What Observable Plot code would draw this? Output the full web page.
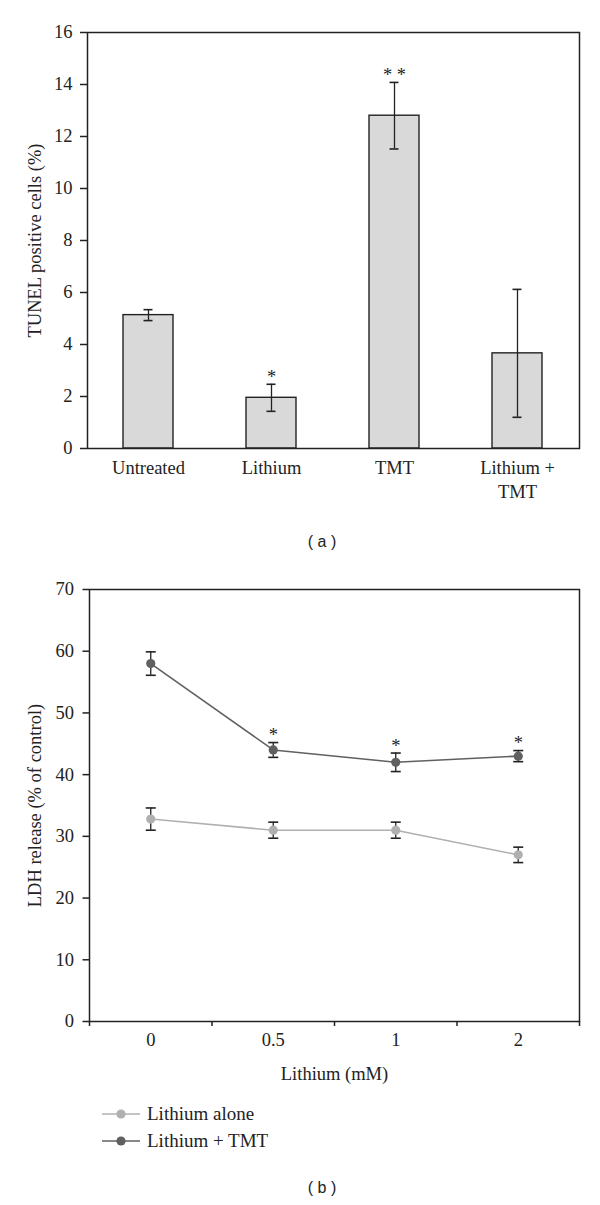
<!DOCTYPE html>
<html><head><meta charset="utf-8">
<script src="https://cdn.jsdelivr.net/npm/d3@7"></script>
<script src="https://cdn.jsdelivr.net/npm/@observablehq/plot@0.6"></script>
<style>
body{margin:0;background:#fff;width:600px;height:1205px;position:relative;overflow:hidden;font-family:"Liberation Serif",serif;}
#a{position:absolute;left:0;top:0}
#b{position:absolute;left:0;top:560px}
.cap{position:absolute;font-family:"Liberation Sans",Arial,sans-serif;font-size:16px;color:#222;transform:translate(-50%,-50%);white-space:pre}
.leg{position:absolute;left:101px;height:20px;font-size:19px;color:#222;display:flex;align-items:center;transform:translateY(-50%);white-space:pre}
.leg svg{margin-right:6px}
</style></head><body>
<div id="a"></div><div id="b"></div>
<div class="cap" style="left:322px;top:542px">( a )</div>
<div id="legend"></div>
<div class="cap" style="left:322px;top:1188px">( b )</div>
<script>
// ---- panel (a) data ----
const groups = ["Untreated", "Lithium", "TMT", "Lithium + TMT"];
const groupLabels = ["Untreated", "Lithium", "TMT", "Lithium +\nTMT"];
const tunel = [5.13, 1.95, 12.8, 3.66];
const tunelErr = [0.21, 0.52, 1.28, 2.46];
const tunelSig = ["", "*", "* *", ""];
const yTicksA = [0, 2, 4, 6, 8, 10, 12, 14, 16];

// ---- panel (b) data ----
const doses = ["0", "0.5", "1", "2"];
const seriesNames = ["Lithium alone", "Lithium + TMT"];
const lithiumAlone = [32.8, 31.0, 31.0, 27.0];
const lithiumAloneErr = [1.8, 1.3, 1.3, 1.25];
const lithiumAloneSig = ["", "", "", ""];
const lithiumTmt = [58.0, 44.0, 42.0, 43.0];
const lithiumTmtErr = [1.9, 1.2, 1.5, 0.9];
const lithiumTmtSig = ["", "*", "*", "*"];
const yTicksB = [0, 10, 20, 30, 40, 50, 60, 70];
const seriesColors = ["#b0b0b0", "#606060"];

const ink = "#222";
const font = '"Liberation Serif", "Times New Roman", serif';
const fs = 18.5;

const dataA = groups.map((g, i) => ({
  group: g, value: tunel[i], lo: tunel[i] - tunelErr[i], hi: tunel[i] + tunelErr[i], sig: tunelSig[i]
}));

const chartA = Plot.plot({
  width: 600, height: 510,
  marginTop: 32, marginBottom: 62, marginLeft: 87, marginRight: 21,
  style: {fontFamily: font, fontSize: fs + "px", color: ink, background: "white"},
  x: {domain: groups, type: "band", paddingInner: 0.593, paddingOuter: 0.2965},
  y: {domain: [0, 16]},
  marks: [
    Plot.barY(dataA, {x: "group", y: "value", fill: "#d9d9d9", stroke: ink, strokeWidth: 1.4}),
    Plot.ruleX(dataA, {x: "group", y1: "lo", y2: "hi", stroke: ink, strokeWidth: 1.3}),
    Plot.tickY(dataA, {x: "group", y: "lo", insetLeft: 20.5, insetRight: 20.5, stroke: ink, strokeWidth: 1.6}),
    Plot.tickY(dataA, {x: "group", y: "hi", insetLeft: 20.5, insetRight: 20.5, stroke: ink, strokeWidth: 1.6}),
    Plot.text(dataA, {x: "group", y: "hi", text: "sig", dy: -7, fontSize: fs, fill: ink}),
    Plot.frame({stroke: ink, strokeWidth: 1.5}),
    Plot.axisY({ticks: yTicksA, tickSize: 7, tickPadding: 8, stroke: ink, strokeWidth: 1.5, fontSize: fs,
      label: "TUNEL positive cells (%)", labelAnchor: "center", labelArrow: "none", labelOffset: 60}),
    Plot.axisX({tickSize: 0, tickPadding: 8, lineHeight: 1.3, label: null, fontSize: fs,
      tickFormat: d => groupLabels[groups.indexOf(d)]})
  ]
});
document.getElementById("a").append(chartA);

const seriesDefs = [
  {name: seriesNames[0], values: lithiumAlone, err: lithiumAloneErr, sig: lithiumAloneSig},
  {name: seriesNames[1], values: lithiumTmt, err: lithiumTmtErr, sig: lithiumTmtSig}
];
const dataB = seriesDefs.flatMap(s => doses.map((d, i) => ({
  series: s.name, i, dose: d, value: s.values[i], lo: s.values[i] - s.err[i], hi: s.values[i] + s.err[i], sig: s.sig[i]
})));

const capSymbol = {draw(ctx) { ctx.moveTo(-5, 0); ctx.lineTo(5, 0); }};

const chartB = Plot.plot({
  width: 600, height: 525,
  marginTop: 29, marginBottom: 64, marginLeft: 89, marginRight: 21,
  style: {fontFamily: font, fontSize: fs + "px", color: ink, background: "white"},
  x: {type: "linear", domain: [-0.5, doses.length - 0.5]},
  y: {domain: [0, 70]},
  color: {domain: seriesNames, range: seriesColors},
  marks: [
    Plot.line(dataB, {x: "i", y: "value", z: "series", stroke: "series", strokeWidth: 1.6}),
    Plot.ruleX(dataB, {x: "i", y1: "lo", y2: "hi", stroke: ink, strokeWidth: 1.3}),
    Plot.dot(dataB, {x: "i", y: "lo", symbol: capSymbol, fill: "none", stroke: ink, strokeWidth: 1.6}),
    Plot.dot(dataB, {x: "i", y: "hi", symbol: capSymbol, fill: "none", stroke: ink, strokeWidth: 1.6}),
    Plot.dot(dataB, {x: "i", y: "value", fill: "series", r: 4.6}),
    Plot.text(dataB, {x: "i", y: "hi", text: "sig", dy: -7, fontSize: fs, fill: ink}),
    Plot.frame({stroke: ink, strokeWidth: 1.5}),
    Plot.axisY({ticks: yTicksB, tickSize: 6.5, tickPadding: 9, stroke: ink, strokeWidth: 1.5, fontSize: fs,
      label: "LDH release (% of control)", labelAnchor: "center", labelArrow: "none", labelOffset: 62}),
    Plot.axisX({ticks: d3.range(-0.5, doses.length, 1), tickSize: 5, stroke: ink, strokeWidth: 1.5,
      tickFormat: () => "", label: null}),
    Plot.axisX({ticks: d3.range(0, doses.length), tickSize: 0, tickPadding: 11, fontSize: fs,
      tickFormat: i => doses[i],
      label: "Lithium (mM)", labelAnchor: "center", labelArrow: "none", labelOffset: 58})
  ]
});
document.getElementById("b").append(chartB);

// legend
const legend = document.getElementById("legend");
const legendY = [1114, 1141];
seriesNames.forEach((name, k) => {
  const row = document.createElement("div");
  row.className = "leg";
  row.style.top = legendY[k] + "px";
  const svg = d3.create("svg").attr("width", 40).attr("height", 12);
  svg.append("line").attr("x1", 1).attr("x2", 39).attr("y1", 6).attr("y2", 6)
    .attr("stroke", seriesColors[k]).attr("stroke-width", 1.6);
  svg.append("circle").attr("cx", 20).attr("cy", 6).attr("r", 4.6).attr("fill", seriesColors[k]);
  row.append(svg.node());
  row.append(document.createTextNode(name));
  legend.append(row);
});
</script>
</body></html>
